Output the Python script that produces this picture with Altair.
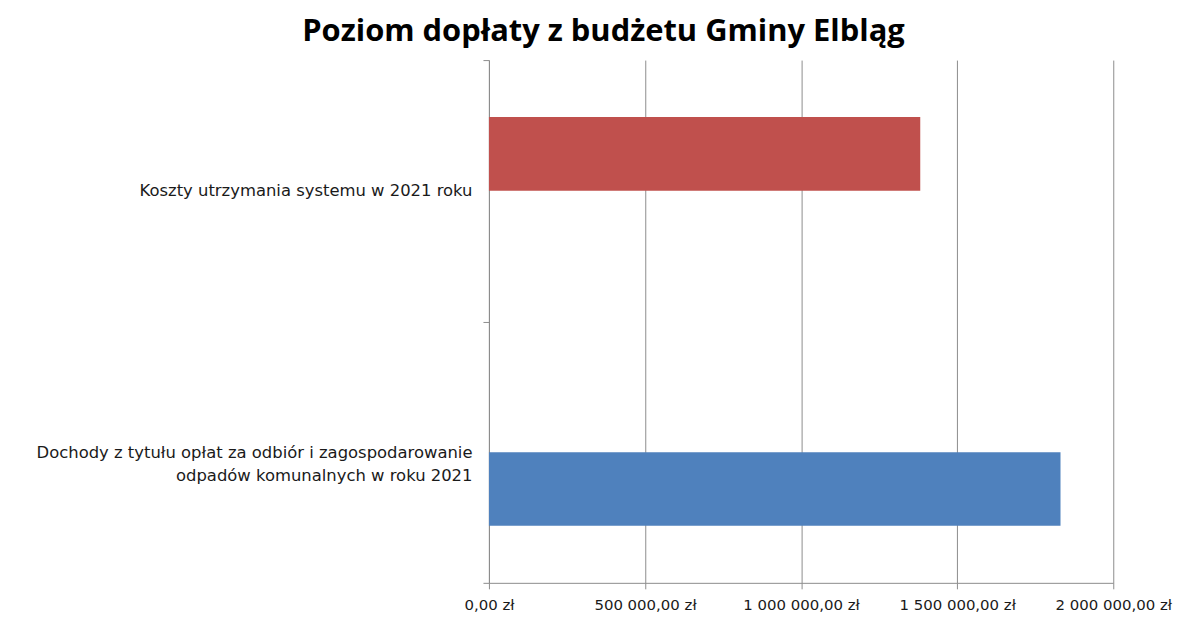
import altair as alt
import pandas as pd

categories = [
    "Koszty utrzymania systemu w 2021 roku",
    "Dochody z tytułu opłat za odbiór i zagospodarowanie\nodpadów komunalnych w roku 2021",
]
series = ["Koszty", "Dochody"]
values = [1381700, 1831000]
colors = ["#C0504D", "#4F81BD"]
x_ticks = [0, 500000, 1000000, 1500000, 2000000]

df = pd.DataFrame({"kategoria": categories, "seria": series, "wartosc": values})

label_expr = ("replace(replace(format(datum.value, ',.2f'), regexp(',', 'g'), ' '), '.', ',') + ' zł'")

chart = alt.Chart(df).mark_bar().encode(
    x=alt.X(
        "wartosc:Q",
        scale=alt.Scale(domain=[0, 2000000], nice=False),
        axis=alt.Axis(
            values=x_ticks,
            labelExpr=label_expr,
            title=None,
            grid=True,
            gridColor="#8c8c8c",
            domainColor="#8c8c8c",
            tickColor="#8c8c8c",
            tickSize=6,
            labelFont="DejaVu Sans",
            labelFontSize=15,
            labelColor="#1a1a1a",
            labelPadding=9,
            labelOverlap=False,
            labelFlush=False,
        ),
    ),
    y=alt.Y(
        "kategoria:N",
        sort=categories,
        scale=alt.Scale(paddingInner=0, paddingOuter=0),
        axis=alt.Axis(
            title=None,
            labelExpr="split(datum.label, '\\n')",
            labelFont="DejaVu Sans",
            labelFontSize=16.5,
            labelColor="#1a1a1a",
            labelAlign="right",
            labelPadding=11,
            labelLineHeight=23,
            tickBand="extent",
            tickSize=6,
            tickColor="#8c8c8c",
            domainColor="#8c8c8c",
            grid=False,
            labelLimit=600,
        ),
    ),
    yOffset=alt.YOffset("seria:N", sort=series, scale=alt.Scale(paddingInner=0, paddingOuter=0.774)),
    color=alt.Color("seria:N", scale=alt.Scale(domain=series, range=colors), legend=None),
).properties(
    width=627,
    height=525,
    padding={"left": 27, "top": 7, "right": 2, "bottom": 2},
    title=alt.Title(
        "Poziom dopłaty z budżetu Gminy Elbląg",
        font="Open Sans",
        fontSize=31,
        fontWeight="bold",
        color="#000000",
        anchor="middle",
        frame="bounds",
        offset=4,
    ),
).configure_view(stroke=None)

chart.save("out.html", embed_options={"renderer": "svg", "actions": False})
